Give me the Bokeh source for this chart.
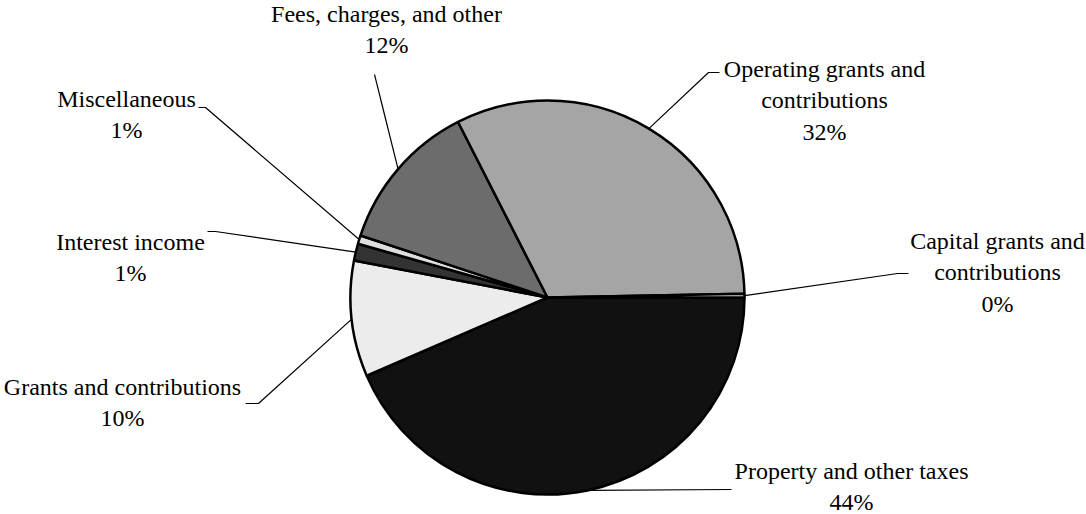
import math
from bokeh.plotting import figure
from bokeh.models import ColumnDataSource
from bokeh.core.properties import value
from bokeh.embed import file_html
from bokeh.resources import INLINE

# ---- data (clockwise from 3 o'clock) ----
categories = ["Property and other taxes", "Grants and contributions", "Interest income",
              "Miscellaneous", "Fees, charges, and other",
              "Operating grants and contributions", "Capital grants and contributions"]
shares = [43.5, 9.5, 1.4, 0.7, 12.4, 32.2, 0.3]
pct_labels = ["44%", "10%", "1%", "1%", "12%", "32%", "0%"]
label_lines = ["Property and other taxes", "Grants and contributions", "Interest income",
               "Miscellaneous", "Fees, charges, and other",
               "Operating grants and\ncontributions", "Capital grants and\ncontributions"]

# ---- styles / layout ----
colors = ["#111111", "#ececec", "#333333", "#dedede", "#6c6c6c", "#a5a5a5", "#d2d2d2"]
W, H = 1086, 514
CX, CY, R = 547, 297, 197          # screen coords of pie
# label block centres (screen x, screen y) and leader elbow / end points
label_pos = [(851, 486), (122, 402), (130, 257), (126, 114), (386, 29), (824, 100), (997, 272)]
leader_mid = [(731, 489), (258, 403), (215, 231), (205, 107), (374, 74), (708, 72), (897, 273)]
leader_end = [(731, 489), (245, 403), (207, 231), (198, 107), (374, 74), (719, 72), (908, 273)]

def fy(y):
    return H - y

p = figure(width=W, height=H, x_range=(0, W), y_range=(0, H),
           output_backend="svg", toolbar_location=None, min_border=0)
p.axis.visible = False
p.grid.visible = False
p.outline_line_color = None
p.background_fill_color = "white"

total = sum(shares)
starts, ends, mids = [], [], []
cum = 0.0
for s in shares:
    a0 = cum / total * 2 * math.pi
    cum += s
    a1 = cum / total * 2 * math.pi
    # clockwise on screen == negative angle in y-up data space
    starts.append(-a1)
    ends.append(-a0)
    mids.append((a0 + a1) / 2)

src = ColumnDataSource(dict(x=[CX] * len(shares), y=[fy(CY)] * len(shares),
                            start=starts, end=ends, color=colors, cat=categories))
p.wedge(x="x", y="y", radius=R, start_angle="start", end_angle="end",
        direction="anticlock", fill_color="color", line_color="black",
        line_width=2.5, source=src)

# leader lines
for m, mid, end in zip(mids, leader_mid, leader_end):
    sx = CX + R * math.cos(m)
    sy = CY + R * math.sin(m)
    xs = [sx, mid[0], end[0]]
    ys = [fy(sy), fy(mid[1]), fy(end[1])]
    p.line(xs, ys, line_color="black", line_width=1.2)

# labels
texts = [f"{t}\n{pc}" for t, pc in zip(label_lines, pct_labels)]
lsrc = ColumnDataSource(dict(x=[lp[0] for lp in label_pos], y=[fy(lp[1]) for lp in label_pos], t=texts))
p.text(x="x", y="y", text="t", source=lsrc, text_font=value("Liberation Serif"),
       text_font_size="24px", text_align="center", text_baseline="middle",
       text_color="black", text_line_height=1.2)

open("out.html", "w").write(file_html(p, INLINE))
